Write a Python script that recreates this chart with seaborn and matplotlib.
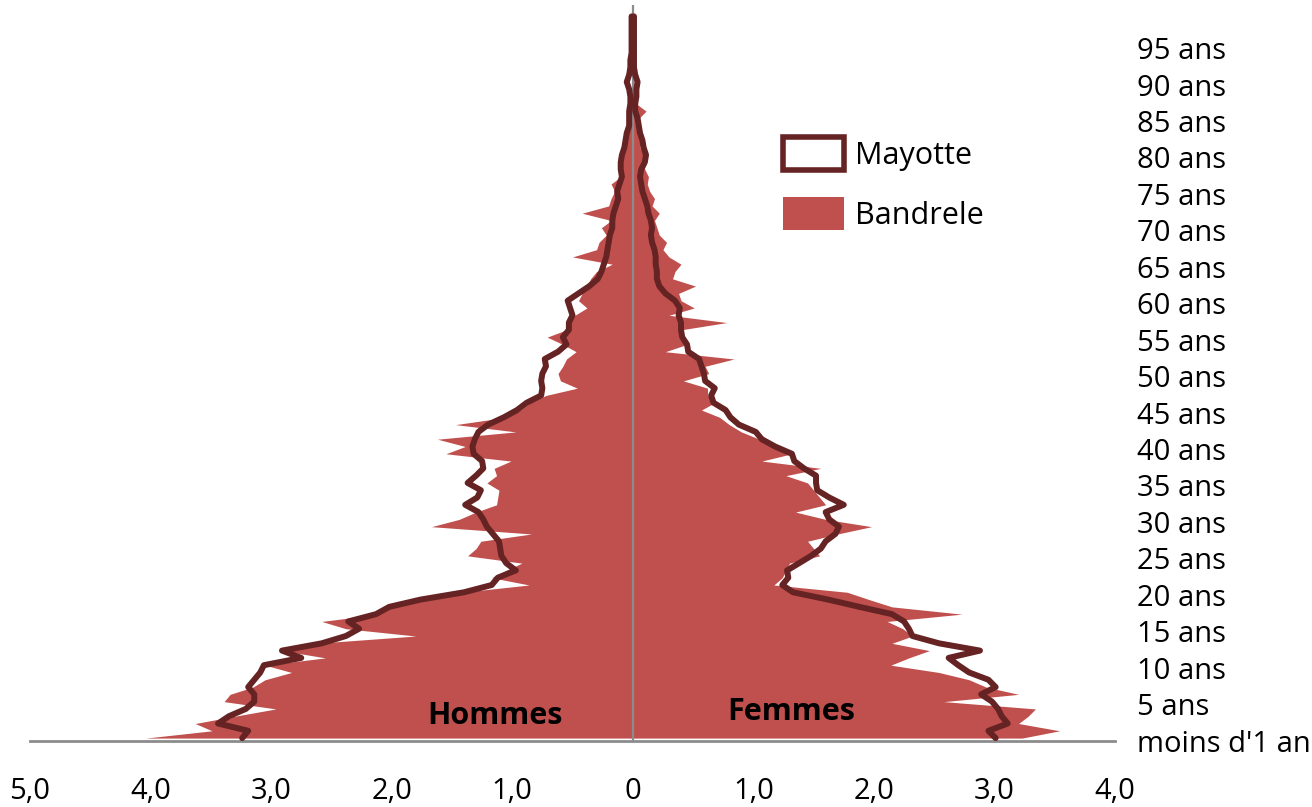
import numpy as np
import pandas as pd
import matplotlib
matplotlib.use("Agg")
import matplotlib.pyplot as plt
from matplotlib.patches import Patch
import seaborn as sns

# ---------------- data (share of population, % per single year of age) ----------------
ages = list(range(100))

mayotte_hommes = [
    3.24, 3.19, 3.44, 3.35, 3.21, 3.14, 3.14, 3.19, 3.14, 3.09,
    3.06, 2.75, 2.91, 2.58, 2.38, 2.27, 2.36, 2.13, 2.02, 1.76,
    1.40, 1.17, 1.12, 0.97, 1.05, 1.09, 1.10, 1.11, 1.16, 1.21,
    1.24, 1.28, 1.39, 1.29, 1.26, 1.37, 1.30, 1.24, 1.25, 1.32,
    1.33, 1.31, 1.28, 1.20, 1.07, 0.96, 0.88, 0.76, 0.75, 0.76,
    0.75, 0.72, 0.73, 0.62, 0.55, 0.58, 0.53, 0.53, 0.50, 0.52,
    0.54, 0.45, 0.36, 0.29, 0.26, 0.24, 0.22, 0.21, 0.20, 0.19,
    0.17, 0.17, 0.16, 0.14, 0.12, 0.13, 0.11, 0.09, 0.10, 0.10,
    0.09, 0.07, 0.06, 0.05, 0.03, 0.03, 0.03, 0.02, 0.02, 0.03,
    0.05, 0.03, 0.02, 0.02, 0.01, 0.01, 0.01, 0.01, 0.01, 0.01,
]
mayotte_femmes = [
    3.01, 2.95, 3.11, 3.06, 3.03, 2.98, 2.89, 3.01, 2.95, 2.79,
    2.70, 2.62, 2.88, 2.54, 2.32, 2.29, 2.25, 2.15, 1.88, 1.62,
    1.33, 1.24, 1.29, 1.28, 1.38, 1.48, 1.56, 1.60, 1.68, 1.71,
    1.63, 1.60, 1.75, 1.63, 1.53, 1.52, 1.52, 1.42, 1.34, 1.32,
    1.18, 1.07, 1.02, 0.88, 0.81, 0.77, 0.67, 0.65, 0.68, 0.60,
    0.59, 0.57, 0.55, 0.46, 0.45, 0.41, 0.40, 0.40, 0.38, 0.39,
    0.35, 0.27, 0.22, 0.20, 0.20, 0.19, 0.19, 0.18, 0.16, 0.15,
    0.16, 0.15, 0.13, 0.12, 0.10, 0.08, 0.07, 0.06, 0.07, 0.10,
    0.11, 0.09, 0.08, 0.06, 0.05, 0.04, 0.02, 0.02, 0.03, 0.03,
    0.04, 0.02, 0.01, 0.01, 0.01, 0.01, 0.01, 0.01, 0.01, 0.01,
]
bandrele_hommes = [
    4.04, 3.49, 3.63, 3.30, 2.96, 3.39, 3.34, 3.15, 3.05, 2.83,
    3.05, 2.55, 2.91, 2.63, 1.80, 2.38, 2.58, 2.10, 2.00, 1.69,
    1.42, 0.86, 1.17, 1.05, 0.92, 1.37, 1.30, 1.26, 0.84, 1.67,
    1.44, 1.30, 1.13, 1.12, 1.11, 1.21, 1.13, 1.15, 1.01, 1.55,
    1.39, 1.62, 0.97, 1.47, 1.05, 0.93, 0.85, 0.72, 0.46, 0.60,
    0.62, 0.58, 0.55, 0.47, 0.58, 0.71, 0.55, 0.52, 0.48, 0.38,
    0.45, 0.42, 0.38, 0.35, 0.30, 0.17, 0.50, 0.30, 0.28, 0.22,
    0.26, 0.18, 0.42, 0.20, 0.18, 0.15, 0.18, 0.10, 0.12, 0.09,
    0.08, 0.10, 0.06, 0.05, 0.04, 0.03, 0.03, 0.02, 0.02, 0.01,
    0.01, 0.00, 0.00, 0.00, 0.00, 0.00, 0.00, 0.00, 0.00, 0.00,
]
bandrele_femmes = [
    3.23, 3.54, 3.20, 3.28, 3.34, 2.58, 3.20, 2.93, 2.79, 2.54,
    2.14, 2.29, 2.46, 2.15, 2.32, 2.24, 2.11, 2.73, 2.15, 1.96,
    1.78, 1.17, 1.24, 1.27, 1.30, 1.55, 1.50, 1.45, 1.70, 1.98,
    1.60, 1.35, 1.60, 1.55, 1.50, 1.45, 1.27, 1.56, 1.07, 1.32,
    1.18, 1.05, 0.90, 0.80, 0.72, 0.57, 0.68, 0.62, 0.62, 0.42,
    0.63, 0.60, 0.84, 0.27, 0.45, 0.42, 0.40, 0.78, 0.30, 0.51,
    0.40, 0.38, 0.52, 0.33, 0.35, 0.40, 0.30, 0.25, 0.28, 0.22,
    0.20, 0.18, 0.22, 0.16, 0.18, 0.14, 0.12, 0.13, 0.10, 0.08,
    0.09, 0.06, 0.07, 0.05, 0.04, 0.05, 0.11, 0.03, 0.02, 0.01,
    0.01, 0.00, 0.00, 0.00, 0.00, 0.00, 0.00, 0.00, 0.00, 0.00,
]

x_ticks = [-5, -4, -3, -2, -1, 0, 1, 2, 3, 4]
x_labels = ["5,0", "4,0", "3,0", "2,0", "1,0", "0", "1,0", "2,0", "3,0", "4,0"]
y_ticks = list(range(0, 100, 5))
y_labels = ["moins d'1 an"] + [f"{a} ans" for a in range(5, 100, 5)]

series_names = ["Mayotte", "Bandrele"]
side_names = ["Hommes", "Femmes"]

# ---------------- style ----------------
sns.set_theme(style="white")
plt.rcParams["font.family"] = ["Open Sans", "DejaVu Sans"]
plt.rcParams["text.color"] = "black"

FILL = "#C0504D"
LINE = "#662323"
GRID = "#8C8C8C"

W, H = 1312, 807
fig = plt.figure(figsize=(W / 100, H / 100), dpi=100)
ax = fig.add_axes([30 / W, (H - 741) / H, 1085 / W, 736 / H])

df = pd.DataFrame({
    "age": ages,
    "may_h": -np.array(mayotte_hommes),
    "may_f": np.array(mayotte_femmes),
    "ban_h": -np.array(bandrele_hommes),
    "ban_f": np.array(bandrele_femmes),
})

# Bandrele areas
ax.fill_betweenx(df["age"], df["ban_h"], 0, color=FILL, linewidth=0, zorder=1)
ax.fill_betweenx(df["age"], 0, df["ban_f"], color=FILL, linewidth=0, zorder=1)

# centre axis
ax.axvline(0, color=GRID, linewidth=1.6, zorder=2)

# Mayotte lines
for col in ["may_h", "may_f"]:
    sns.lineplot(data=df, x=col, y="age", orient="y", color=LINE, linewidth=4.3,
                 ax=ax, legend=False, zorder=4)
for ln in ax.get_lines()[1:]:
    ln.set_solid_joinstyle("round")
    ln.set_solid_capstyle("round")
    ln.set_clip_on(False)

ax.set_xlim(-5, 4)
ax.set_ylim(-0.4, -0.4 + 736 / 7.29)

ax.set_xlabel("")
ax.set_ylabel("")
ax.set_xticks(x_ticks)
ax.set_xticklabels(x_labels)
ax.set_yticks([t - 0.35 for t in y_ticks])
ax.set_yticklabels(y_labels)
ax.yaxis.tick_right()
ax.tick_params(axis="x", length=0, pad=26, labelsize=21, labelcolor="black")
ax.tick_params(axis="y", length=0, pad=16, labelsize=21, labelcolor="black")
for lab in ax.get_yticklabels():
    lab.set_horizontalalignment("left")

for s in ["top", "left", "right"]:
    ax.spines[s].set_visible(False)
ax.spines["bottom"].set_color(GRID)
ax.spines["bottom"].set_linewidth(2)
ax.spines["bottom"].set_zorder(3)
ax.grid(False)
ax.set_facecolor("white")

ax.text(-1.14, 3.0, side_names[0], ha="center", va="center", fontsize=22,
        fontweight="bold", color="black", zorder=5)
ax.text(1.31, 3.6, side_names[1], ha="center", va="center", fontsize=22,
        fontweight="bold", color="black", zorder=5)

handles = [
    Patch(facecolor="white", edgecolor=LINE, linewidth=4),
    Patch(facecolor=FILL, edgecolor=FILL, linewidth=0),
]
leg = fig.legend(handles, series_names, loc="upper left",
                 bbox_to_anchor=(783 / W, 1 - 137 / H), bbox_transform=fig.transFigure,
                 frameon=False, fontsize=22, handlelength=2.0, handleheight=1.3,
                 handletextpad=0.35, labelspacing=0.85, borderpad=0, borderaxespad=0)
for t in leg.get_texts():
    t.set_color("black")

fig.savefig("out.png", dpi=100, facecolor="white")
